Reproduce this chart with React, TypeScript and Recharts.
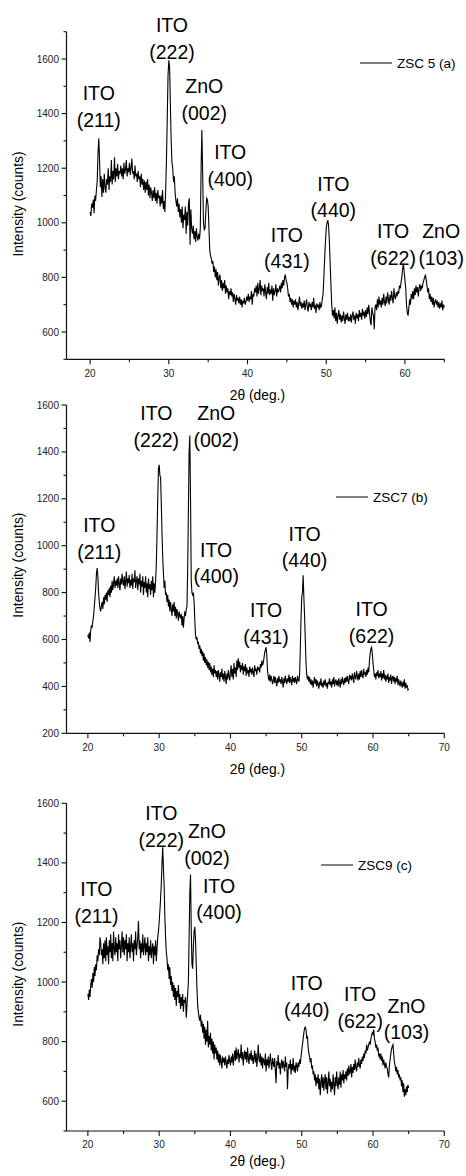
import React from 'react';
import { LineChart, Line, XAxis, YAxis, ReferenceDot, Legend } from 'recharts';

const FONT = '"Liberation Sans", Arial, Helvetica, sans-serif';

// 2θ scan grid: 20.0° … 65.0°, step 0.1°
const SCAN_START = 20;
const SCAN_STEP = 0.1;

// ZSC 5 (a) intensities, one row per degree (20.x … 64.x), then 65.0
const zsc5Counts = [
  1040, 1025, 1070, 1055, 1085, 1035, 1100, 1080, 1120, 1150,
  1250, 1310, 1230, 1130, 1170, 1095, 1160, 1110, 1180, 1130,
  1110, 1160, 1140, 1200, 1120, 1170, 1150, 1230, 1140, 1190,
  1160, 1240, 1150, 1200, 1170, 1215, 1160, 1190, 1180, 1210,
  1170, 1200, 1160, 1220, 1180, 1195, 1230, 1170, 1200, 1185,
  1220, 1175, 1200, 1235, 1180, 1190, 1160, 1210, 1170, 1180,
  1150, 1190, 1160, 1170, 1130, 1180, 1140, 1160, 1120, 1155,
  1110, 1150, 1120, 1160, 1100, 1140, 1090, 1130, 1110, 1080,
  1120, 1090, 1130, 1080, 1110, 1070, 1120, 1090, 1100, 1060,
  1100, 1070, 1120, 1050, 1080, 1040, 1120, 1230, 1380, 1540,
  1595, 1570, 1430, 1300, 1220, 1200, 1150, 1170, 1110, 1080,
  1060, 1090, 1040, 1070, 1020, 1050, 1000, 1060, 980, 1030,
  1010, 1060, 960, 1040, 990, 1070, 1090, 920, 1050, 980,
  960, 990, 940, 970, 930, 980, 950, 935, 960, 940,
  980, 1200, 1340, 1180, 1000, 975, 980, 1040, 1090, 1085,
  1060, 980, 900, 880, 870, 850, 860, 820, 840, 800,
  830, 790, 820, 770, 800, 810, 760, 790, 750, 780,
  760, 790, 740, 770, 745, 760, 720, 750, 735, 760,
  730, 745, 710, 740, 720, 700, 735, 715, 725, 705,
  730, 700, 720, 690, 715, 705, 725, 700, 710, 730,
  715, 740, 710, 730, 720, 750, 700, 740, 730, 760,
  745, 770, 730, 780, 740, 760, 790, 735, 770, 750,
  760, 730, 775, 745, 720, 765, 740, 780, 735, 755,
  740, 770, 715, 760, 735, 750, 775, 730, 760, 745,
  755, 770, 745, 780, 760, 790, 770, 800, 810, 790,
  780, 760, 730, 740, 710, 725, 700, 720, 690, 715,
  700, 720, 690, 710, 680, 705, 730, 695, 710, 685,
  705, 690, 715, 680, 700, 720, 690, 675, 710, 695,
  700, 680, 710, 690, 725, 685, 700, 670, 705, 690,
  700, 680, 710, 690, 695, 720, 740, 800, 870, 930,
  980, 1000, 1010, 990, 930, 850, 770, 700, 660, 680,
  650, 690, 640, 670, 630, 660, 680, 645, 665, 635,
  660, 640, 675, 650, 630, 665, 645, 670, 640, 655,
  640, 665, 635, 660, 675, 645, 660, 630, 670, 650,
  665, 640, 680, 655, 670, 645, 685, 660, 675, 650,
  680, 655, 690, 665, 700, 670, 640, 625, 690, 670,
  660, 610, 690, 700, 680, 720, 690, 730, 700, 715,
  690, 725, 700, 740, 710, 695, 730, 705, 745, 720,
  700, 735, 715, 750, 725, 705, 760, 730, 720, 745,
  730, 750, 740, 770, 760, 780, 800, 830, 850, 820,
  790, 760, 700, 670, 660, 690, 720, 700, 740, 720,
  750, 720, 760, 735, 770, 745, 765, 730, 760, 775,
  750, 770, 760, 780, 790, 800, 810, 790, 770, 745,
  760, 720, 740, 710, 730, 700, 725, 690, 710, 720,
  700, 715, 690, 710, 685, 705, 690, 715, 680, 700,
  690,
];

// ZSC7 (b)
const zsc7Counts = [
  620, 605, 630, 590, 640, 660, 650, 680, 700, 740,
  780, 820, 880, 905, 870, 800, 760, 730, 720, 745,
  760, 730, 780, 750, 790, 770, 800, 760, 810, 790,
  820, 780, 830, 800, 850, 810, 840, 870, 820, 850,
  830, 860, 820, 870, 840, 810, 860, 835, 880, 845,
  830, 870, 815, 850, 890, 825, 860, 840, 875, 820,
  855, 830, 880, 815, 860, 845, 895, 820, 850, 870,
  810, 860, 835, 880, 800, 850, 825, 870, 790, 845,
  820, 870, 800, 840, 780, 860, 815, 835, 790, 850,
  810, 870, 780, 840, 800, 850, 920, 1050, 1200, 1330,
  1345, 1300, 1290, 1180, 1050, 950, 880, 820, 850, 790,
  800, 760, 790, 740, 770, 720, 760, 730, 700, 750,
  720, 760, 700, 740, 690, 730, 710, 680, 720, 700,
  690, 710, 660, 700, 650, 690, 720, 700, 730, 740,
  900, 1150, 1400, 1470, 1200, 850, 800, 790, 800, 760,
  680, 620, 600, 610, 580, 590, 560, 575, 540, 560,
  530, 550, 510, 540, 500, 525, 490, 515, 480, 505,
  470, 500, 460, 485, 450, 475, 440, 490, 455, 470,
  440, 465, 430, 470, 450, 420, 460, 440, 475, 430,
  455, 420, 465, 440, 410, 455, 430, 470, 445, 425,
  460, 490, 440, 475, 430, 500, 455, 480, 440, 510,
  470, 520, 480, 505, 460, 490, 470, 500, 450, 485,
  465, 495, 445, 480, 455, 470, 440, 485, 460, 475,
  450, 480, 460, 440, 490, 465, 475, 450, 485, 470,
  480, 460, 495, 480, 510, 490, 500, 520, 545, 555,
  567, 530, 470, 440, 425, 450, 420, 445, 430, 410,
  425, 445, 415, 440, 420, 400, 435, 415, 445, 420,
  430, 410, 440, 420, 395, 435, 415, 445, 425, 410,
  435, 420, 450, 415, 440, 425, 405, 445, 420, 435,
  415, 440, 425, 410, 445, 430, 420, 450, 560, 690,
  780, 800, 874, 780, 700, 600, 500, 450, 430, 445,
  420, 440, 410, 430, 405, 425, 395, 420, 440, 410,
  430, 400, 425, 410, 390, 420, 405, 435, 400, 415,
  395, 425, 405, 430, 400, 415, 390, 420, 410, 435,
  405, 420, 395, 430, 410, 440, 400, 420, 430, 405,
  425, 400, 435, 415, 395, 430, 410, 440, 420, 405,
  435, 415, 440, 420, 445, 425, 410, 450, 430, 445,
  425, 455, 435, 415, 460, 440, 430, 465, 445, 425,
  455, 430, 465, 440, 470, 445, 435, 475, 450, 460,
  440, 470, 450, 480, 460, 510, 540, 560, 567, 540,
  500, 470, 440, 455, 430, 460, 445, 470, 435, 455,
  440, 465, 425, 455, 435, 470, 430, 450, 420, 445,
  430, 455, 415, 440, 425, 450, 410, 435, 445, 420,
  440, 410, 435, 420, 445, 405, 430, 415, 400, 425,
  410, 395, 420, 400, 430, 390, 415, 395, 405, 385,
  390,
];

// ZSC9 (c)
const zsc9Counts = [
  960, 940, 975, 950, 990, 1010, 980, 1030, 1000, 1050,
  1020, 1060, 1040, 1090, 1070, 1110, 1090, 1150, 1130, 1090,
  1110, 1060, 1130, 1080, 1140, 1070, 1150, 1090, 1120, 1060,
  1140, 1100, 1160, 1080, 1130, 1070, 1170, 1110, 1090, 1150,
  1100, 1130, 1070, 1160, 1110, 1140, 1080, 1120, 1170, 1100,
  1150, 1090, 1140, 1110, 1160, 1070, 1130, 1100, 1150, 1080,
  1120, 1160, 1100, 1130, 1070, 1140, 1110, 1170, 1090, 1120,
  1150, 1205, 1110, 1140, 1080, 1130, 1100, 1160, 1090, 1120,
  1150, 1090, 1130, 1100, 1150, 1070, 1120, 1090, 1140, 1080,
  1110, 1130, 1060, 1120, 1090, 1140, 1070, 1110, 1150, 1170,
  1200, 1240, 1280, 1330, 1400, 1452, 1380, 1320, 1220, 1150,
  1100, 1080, 1040, 1060, 1010, 1050, 990, 1020, 970, 1000,
  950, 990, 940, 980, 920, 970, 950, 990, 930, 960,
  910, 950, 920, 960, 900, 940, 930, 950, 880, 920,
  960, 1000, 1150, 1300, 1361, 1180, 1060, 1045, 1120, 1170,
  1185, 1140, 1060, 980, 920, 900, 880, 870, 890, 850,
  870, 830, 860, 810, 850, 790, 840, 800, 870, 780,
  820, 790, 830, 770, 810, 760, 800, 740, 790, 760,
  780, 740, 770, 730, 760, 720, 755, 735, 710, 750,
  730, 745, 720, 750, 730, 710, 740, 725, 755, 735,
  720, 750, 730, 760, 720, 745, 770, 735, 780, 740,
  760, 775, 730, 760, 745, 790, 740, 765, 720, 755,
  770, 740, 765, 730, 780, 745, 725, 760, 740, 770,
  735, 755, 725, 745, 770, 730, 760, 715, 745, 790,
  740, 730, 760, 720, 750, 710, 745, 735, 720, 760,
  700, 740, 720, 750, 710, 735, 760, 725, 705, 745,
  730, 715, 745, 700, 660, 735, 720, 755, 710, 730,
  690, 725, 740, 710, 735, 720, 700, 750, 715, 730,
  640, 705, 725, 710, 740, 690, 725, 705, 745, 700,
  720, 695, 730, 720, 700, 730, 715, 740, 725, 750,
  770, 790, 810, 830, 845, 849, 840, 810, 820, 780,
  760, 750, 730, 745, 710, 720, 690, 700, 670, 690,
  650, 680, 660, 690, 640, 675, 620, 665, 690, 645,
  680, 635, 670, 690, 640, 680, 625, 660, 700, 650,
  675, 630, 665, 640, 690, 655, 620, 680, 650, 700,
  660, 640, 680, 655, 700, 645, 690, 670, 705, 660,
  690, 675, 700, 670, 710, 685, 720, 690, 700, 725,
  680, 715, 695, 725, 705, 740, 710, 700, 730, 715,
  745, 720, 710, 740, 725, 750, 735, 760, 745, 770,
  760, 790, 770, 780, 790, 800, 790, 810, 820, 830,
  825, 840, 810, 800, 780, 790, 770, 780, 750, 760,
  740, 760, 735, 750, 720, 740, 725, 710, 730, 715,
  710, 690, 680, 720, 740, 760, 775, 785, 790, 760,
  730, 720, 700, 715, 690, 705, 680, 690, 670, 680,
  650, 670, 630, 660, 615, 640, 620, 650, 630, 655,
  645,
];

// axis ticks
const xTicksA = [20, 25, 30, 35, 40, 45, 50, 55, 60, 65];
const xTicksBC = [20, 25, 30, 35, 40, 45, 50, 55, 60, 65, 70];
const yTicksA = [500, 600, 700, 800, 900, 1000, 1100, 1200, 1300, 1400, 1500, 1600, 1700];
const yTicksB = [200, 300, 400, 500, 600, 700, 800, 900, 1000, 1100, 1200, 1300, 1400, 1500, 1600];
const yTicksC = [500, 600, 700, 800, 900, 1000, 1100, 1200, 1300, 1400, 1500, 1600];

// peak annotations (label anchor in data units)
const peaksA = [
  { x: 21.1, y: 1450, phase: 'ITO', hkl: '(211)' },
  { x: 30.4, y: 1698, phase: 'ITO', hkl: '(222)' },
  { x: 34.5, y: 1474, phase: 'ZnO', hkl: '(002)' },
  { x: 37.8, y: 1233, phase: 'ITO', hkl: '(400)' },
  { x: 45.0, y: 931, phase: 'ITO', hkl: '(431)' },
  { x: 50.9, y: 1118, phase: 'ITO', hkl: '(440)' },
  { x: 58.5, y: 945, phase: 'ITO', hkl: '(622)' },
  { x: 64.6, y: 945, phase: 'ZnO', hkl: '(103)' },
];
const peaksB = [
  { x: 21.6, y: 1059, phase: 'ITO', hkl: '(211)' },
  { x: 29.6, y: 1536, phase: 'ITO', hkl: '(222)' },
  { x: 38.0, y: 1536, phase: 'ZnO', hkl: '(002)' },
  { x: 38.0, y: 953, phase: 'ITO', hkl: '(400)' },
  { x: 45.0, y: 694, phase: 'ITO', hkl: '(431)' },
  { x: 50.4, y: 1021, phase: 'ITO', hkl: '(440)' },
  { x: 59.8, y: 699, phase: 'ITO', hkl: '(622)' },
];
const peaksC = [
  { x: 21.2, y: 1289, phase: 'ITO', hkl: '(211)' },
  { x: 30.3, y: 1544, phase: 'ITO', hkl: '(222)' },
  { x: 36.7, y: 1482, phase: 'ZnO', hkl: '(002)' },
  { x: 38.4, y: 1300, phase: 'ITO', hkl: '(400)' },
  { x: 50.7, y: 973, phase: 'ITO', hkl: '(440)' },
  { x: 58.2, y: 936, phase: 'ITO', hkl: '(622)' },
  { x: 64.7, y: 897, phase: 'ZnO', hkl: '(103)' },
];

const buildScan = (counts: number[]) =>
  counts.map((c, i) => ({ twoTheta: Math.round((SCAN_START + i * SCAN_STEP) * 10) / 10, counts: c }));

const XTick = (props: any) => {
  const { x, y, payload } = props;
  const v = payload.value;
  const major = v % 10 === 0;
  return (
    <g>
      <line x1={x} x2={x} y1={y} y2={y + (major ? 5 : 3)} stroke="#111" strokeWidth={1.1} />
      {major && (
        <text x={x} y={y + 17.4} textAnchor="middle" fontSize={10} fontFamily={FONT} fill="#222">
          {v}
        </text>
      )}
    </g>
  );
};

const YTick = (props: any) => {
  const { x, y, payload } = props;
  const v = payload.value;
  const major = v % 200 === 0;
  return (
    <g>
      <line x1={x - (major ? 5 : 3)} x2={x} y1={y} y2={y} stroke="#111" strokeWidth={1.1} />
      {major && (
        <text x={x - 7.5} y={y + 3.5} textAnchor="end" fontSize={10} fontFamily={FONT} fill="#222">
          {v}
        </text>
      )}
    </g>
  );
};

type Peak = { x: number; y: number; phase: string; hkl: string };

const PeakLabel = ({ viewBox, peak }: any) => {
  const cx = viewBox.x + viewBox.width / 2;
  const cy = viewBox.y + viewBox.height / 2;
  return (
    <text textAnchor="middle" fontSize={19.5} fontFamily={FONT} fill="#000">
      <tspan x={cx} y={cy}>{peak.phase}</tspan>
      <tspan x={cx} y={cy + 26.7}>{peak.hkl}</tspan>
    </text>
  );
};

const LegendBox = ({ payload }: any) => {
  const name = payload && payload[0] ? payload[0].value : '';
  return (
    <div style={{ display: 'flex', alignItems: 'center', height: 20, fontFamily: FONT, fontSize: 13.5, color: '#000', whiteSpace: 'nowrap' }}>
      <svg width={32} height={4} style={{ display: 'block' }}>
        <line x1={0} x2={32} y1={2} y2={2} stroke="#000" strokeWidth={1} />
      </svg>
      <span style={{ marginLeft: 5 }}>{name}</span>
    </div>
  );
};

type PanelProps = {
  top: number;
  height: number;
  marginTop: number;
  xAxisHeight: number;
  counts: number[];
  name: string;
  xDomain: [number, number];
  xTicks: number[];
  yDomain: [number, number];
  yTicks: number[];
  peaks: Peak[];
  legendLeft: number;
  legendTop: number;
  yLabelShift: number;
  xLabelDrop: number;
};

const Panel = (p: PanelProps) => {
  const data = buildScan(p.counts);
  return (
    <div style={{ position: 'absolute', left: 0, top: p.top }}>
      <LineChart
        width={466}
        height={p.height}
        data={data}
        margin={{ top: p.marginTop, right: 21.7, bottom: 0, left: 0 }}
      >
        <XAxis
          dataKey="twoTheta"
          type="number"
          domain={p.xDomain}
          ticks={p.xTicks}
          interval={0}
          height={p.xAxisHeight}
          tickLine={false}
          tickSize={0}
          tickMargin={0}
          tick={XTick}
          axisLine={{ stroke: '#111', strokeWidth: 1.2 }}
          label={(lp: any) => {
            const vb = lp.viewBox;
            return (
              <text x={vb.x + vb.width / 2 + 2} y={vb.y + p.xLabelDrop} textAnchor="middle" fontSize={13.8} fontFamily={FONT} fill="#000">
                2θ (deg.)
              </text>
            );
          }}
        />
        <YAxis
          type="number"
          domain={p.yDomain}
          ticks={p.yTicks}
          interval={0}
          width={66.5}
          tickLine={false}
          tickSize={0}
          tickMargin={0}
          tick={YTick}
          axisLine={{ stroke: '#111', strokeWidth: 1.2 }}
          label={(lp: any) => {
            const vb = lp.viewBox;
            const cx = 18.5;
            const cy = vb.y + vb.height / 2 + p.yLabelShift;
            return (
              <text x={cx} y={cy} transform={`rotate(-90, ${cx}, ${cy})`} textAnchor="middle" dominantBaseline="central" fontSize={13.8} fontFamily={FONT} fill="#000">
                Intensity (counts)
              </text>
            );
          }}
        />
        <Legend
          layout="horizontal"
          verticalAlign="middle"
          align="center"
          content={LegendBox}
          wrapperStyle={{ left: p.legendLeft, top: p.legendTop, width: 120, height: 20 }}
        />
        <Line
          name={p.name}
          type="linear"
          dataKey="counts"
          stroke="#000"
          strokeWidth={1.1}
          dot={false}
          activeDot={false}
          isAnimationActive={false}
        />
        {p.peaks.map((pk) => (
          <ReferenceDot
            key={pk.phase + pk.hkl}
            x={pk.x}
            y={pk.y}
            r={0}
            fill="none"
            stroke="none"
            ifOverflow="visible"
            label={(lp: any) => <PeakLabel viewBox={lp.viewBox} peak={pk} />}
          />
        ))}
      </LineChart>
    </div>
  );
};

export default function App() {
  return (
    <div style={{ position: 'absolute', left: 0, top: 0, width: 466, height: 1176, background: '#fff' }}>
      <Panel
        top={0}
        height={410}
        marginTop={31.7}
        xAxisHeight={50.7}
        counts={zsc5Counts}
        name="ZSC 5 (a)"
        xDomain={[17, 65]}
        xTicks={xTicksA}
        yDomain={[500, 1700]}
        yTicks={yTicksA}
        peaks={peaksA}
        legendLeft={360}
        legendTop={53}
        yLabelShift={8.5}
        xLabelDrop={40.7}
      />
      <Panel
        top={380}
        height={400}
        marginTop={25}
        xAxisHeight={46.7}
        counts={zsc7Counts}
        name="ZSC7 (b)"
        xDomain={[17, 70]}
        xTicks={xTicksBC}
        yDomain={[200, 1600]}
        yTicks={yTicksB}
        peaks={peaksB}
        legendLeft={336}
        legendTop={107.3}
        yLabelShift={-4}
        xLabelDrop={40.7}
      />
      <Panel
        top={770}
        height={406}
        marginTop={33.3}
        xAxisHeight={45}
        counts={zsc9Counts}
        name="ZSC9 (c)"
        xDomain={[17, 70]}
        xTicks={xTicksBC}
        yDomain={[500, 1600]}
        yTicks={yTicksC}
        peaks={peaksC}
        legendLeft={321}
        legendTop={85}
        yLabelShift={7}
        xLabelDrop={35}
      />
    </div>
  );
}
